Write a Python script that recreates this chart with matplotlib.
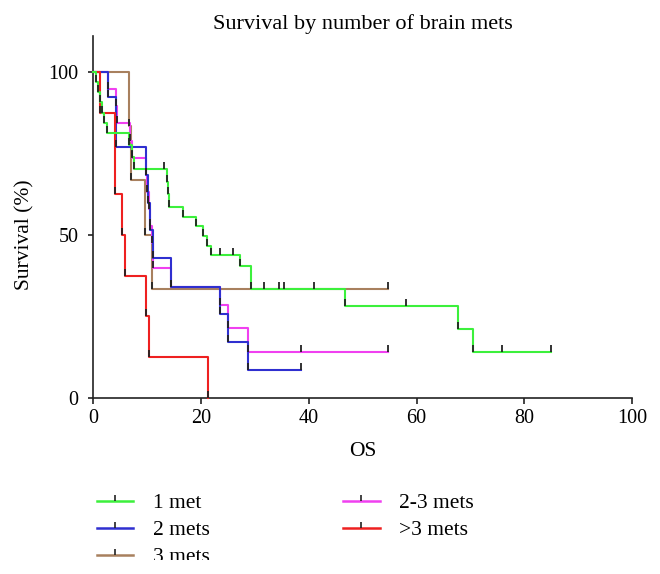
import numpy as np
import matplotlib
matplotlib.use("Agg")
import matplotlib.pyplot as plt
from matplotlib.path import Path
from matplotlib.lines import Line2D
from matplotlib.patches import Rectangle

plt.rcParams['font.family'] = ['Liberation Serif', 'DejaVu Serif']

# ---- data ----
labels = ["1 met", "2 mets", "3 mets", "2-3 mets", ">3 mets"]
colors = ["#3cf03c", "#2f2fd0", "#a8805e", "#f040f0", "#ee2020"]

# event times and survival (%) after each drop
g1_t = [0.4, 0.8, 1.2, 1.6, 2.0, 2.5, 6.7, 7.1, 7.6, 13.7, 13.9, 14.1, 16.6, 19.0,
        20.3, 21.0, 21.9, 27.3, 29.2, 46.7, 67.7, 70.4]
g1_s = [96.9, 93.8, 90.6, 87.5, 84.4, 81.3, 77.6, 73.9, 70.2, 66.3, 62.4, 58.5, 55.4, 52.6,
        49.5, 46.6, 43.9, 40.3, 33.5, 28.1, 21.1, 14.0]
g1_c = [13.2, 23.5, 26.0, 31.7, 34.5, 35.4, 40.9, 58.0, 75.9, 85.0]

g2_t = [2.7, 4.25, 9.8, 10.2, 10.5, 11.1, 14.4, 23.5, 25.0, 28.7]
g2_s = [92.3, 76.9, 68.4, 59.8, 51.5, 42.8, 34.1, 25.7, 17.0, 8.5]
g2_c = [38.5]

g3_t = [6.7, 6.9, 9.6, 10.8]
g3_s = [83.3, 66.7, 50.0, 33.3]
g3_c = [54.7]

g23_t = [2.75, 4.2, 4.4, 6.8, 7.1, 9.7, 10.0, 10.3, 10.6, 10.9, 11.1, 14.4, 23.5, 25.0, 28.7]
g23_s = [94.7, 89.5, 84.2, 78.9, 73.7, 68.4, 63.2, 57.9, 52.6, 47.4, 39.8, 34.1, 28.4, 21.3, 14.1]
g23_c = [38.5, 54.7]

g4_t = [1.3, 4.1, 5.4, 5.95, 9.75, 10.25, 21.3]
g4_s = [87.5, 62.5, 50.0, 37.5, 25.0, 12.5, 0.0]
g4_c = []

groups = [(g1_t, g1_s, g1_c), (g2_t, g2_s, g2_c), (g3_t, g3_s, g3_c),
          (g23_t, g23_s, g23_c), (g4_t, g4_s, g4_c)]
line_z = [6, 4, 2, 3, 5]

xticks = [0, 20, 40, 60, 80, 100]
yticks = [0, 50, 100]

# ---- figure ----
W, H = 660, 574
fig = plt.figure(figsize=(W / 100, H / 100), dpi=100)
x0, x1, y0, y1 = 93.4, 632.0, 397.7, 36.0
ax = fig.add_axes([x0 / W, 1 - y0 / H, (x1 - x0) / W, (y0 - y1) / H])

tick_marker = Path([(0, 0), (0, 1)])
axis_col = "#222222"

for (t, s, c), col, lab, z in zip(groups, colors, labels, line_z):
    t = np.asarray(t, float)
    s = np.asarray(s, float)
    c = np.asarray(c, float)
    end = max(t.max(), c.max() if c.size else 0)
    xs = np.concatenate([[0], t, [end]])
    ys = np.concatenate([[100], s, [s[-1]]])
    ax.step(xs, ys, where="post", color=col, lw=1.5, zorder=z, clip_on=False)
    # survival level at censored times
    if c.size:
        idx = np.searchsorted(t, c, side="right") - 1
        cs = np.where(idx >= 0, s[np.clip(idx, 0, None)], 100.0)
    else:
        cs = np.array([])
    mx = np.concatenate([t, c])
    my = np.concatenate([s, cs])
    ax.plot(mx, my, ls="none", marker=tick_marker, ms=10, mec=axis_col, mew=1.3,
            zorder=10, clip_on=False)

ax.set_xlim(0, 100)
ax.set_ylim(0, 111)
ax.set_xticks(xticks)
ax.set_yticks(yticks)
for sp in ["top", "right"]:
    ax.spines[sp].set_visible(False)
for sp in ["left", "bottom"]:
    ax.spines[sp].set_linewidth(1.2)
    ax.spines[sp].set_color(axis_col)
ax.tick_params(axis="x", length=4, width=1.2, color=axis_col, pad=4, labelsize=14.5)
ax.tick_params(axis="y", length=3.6, width=1.2, color=axis_col, pad=7, labelsize=14.5)

ax.set_xlabel("OS", fontsize=15.5, va="center")
ax.xaxis.set_label_coords(0.5, (y0 - 452) / (y0 - y1))
ax.set_ylabel("Survival (%)", fontsize=15.5, va="center")
ax.yaxis.set_label_coords((25 - x0) / (x1 - x0), 50 / 111)

fig.text((x0 + x1) / 2 / W, 1 - 29 / H, "Survival by number of brain mets",
         ha="center", va="baseline", fontsize=16)

handles = [Line2D([], [], color=col, lw=1.8, marker=tick_marker, ms=9,
                  mec=axis_col, mew=1.2) for col in colors]
leg = ax.legend(handles, labels, ncol=2, frameon=False, fontsize=15.5,
                loc="upper left", bbox_to_anchor=(96.7 / W, 1 - 493 / H),
                bbox_transform=fig.transFigure, borderpad=0, borderaxespad=0,
                handlelength=1.7, handletextpad=0.9, columnspacing=6.2,
                labelspacing=0.33, numpoints=1)

# the reference is cropped just below the third legend row
fig.patches.append(Rectangle((0, 0), 1, (H - 559.5) / H, transform=fig.transFigure,
                             facecolor="white", edgecolor="none", zorder=100))

fig.savefig("out.png", dpi=100)
